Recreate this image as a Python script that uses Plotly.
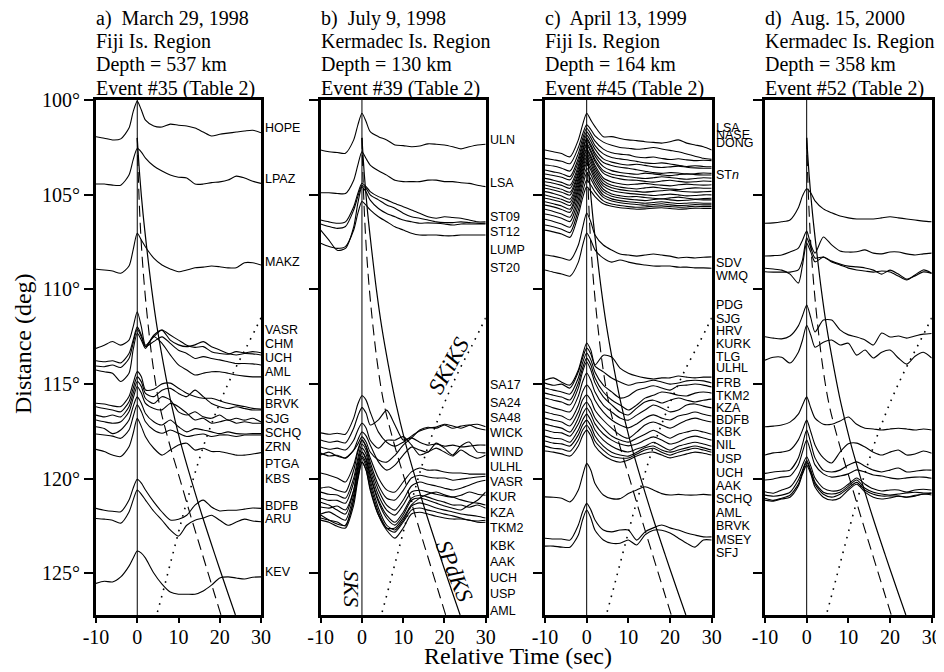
import plotly.graph_objects as go

# ---------------- common sampling (relative time, s) ----------------
T = [-10, -8, -6, -4, -2, -1, 0, 1, 2, 4, 6, 8, 10, 12, 14, 16, 18, 20, 22, 24, 26, 28, 30]
GAIN = 1.902  # degrees of distance per unit amplitude

# ---------------- travel-time curves (distance deg, time s) ----------------
spdks_dist = [102, 104, 106, 108, 110, 112, 114, 116, 118, 120, 122, 124, 126, 127.2]
spdks_time = [0, 0.6, 1.4, 2.4, 3.5, 4.8, 6.4, 8.2, 10.4, 13.0, 15.8, 18.8, 21.9, 23.8]
dash_dist = [102, 104, 106, 108, 110, 112, 114, 116, 118, 120, 122, 124, 126, 127.2]
dash_time = [0, 0.25, 0.6, 1.1, 1.8, 2.7, 3.8, 5.3, 7.6, 10.3, 13.0, 15.8, 18.6, 20.3]
skiks_dist = [111.5, 112, 113, 114, 115, 116, 117, 118, 119, 120, 121, 122, 123, 124, 125, 126, 127.2]
skiks_time = [30, 28.9, 26.6, 24.2, 22.0, 20.0, 18.2, 16.5, 15.0, 13.6, 12.3, 11.0, 9.8, 8.6, 7.4, 6.2, 4.7]

# ---------------- panel a ----------------
a_dist = [101.94, 104.44, 108.94, 113.12, 113.77, 114.05, 114.26, 116.02, 116.20, 116.64,
          116.90, 117.26, 117.64, 118.45, 121.57, 122.10, 125.53]
a_amps = [
    [0, -0.04, -0.09, -0.06, 0.24, 0.69, 0.99, 0.74, 0.46, 0.30, 0.27, 0.35, 0.32, 0.30, 0.24, 0.13, 0.02, 0.07, 0.10, 0.13, 0.16, 0.18, 0.11],
    [0, 0, -0.03, -0.03, 0.25, 0.67, 0.99, 0.89, 0.72, 0.50, 0.36, 0.25, 0.19, 0.17, 0, 0, 0.04, 0.06, 0.11, 0.22, 0.17, 0.08, 0.02],
    [0, -0.02, -0.05, -0.11, 0.09, 0.54, 1.00, 0.81, 0.62, 0.31, 0.12, 0.01, -0.07, -0.02, 0.04, 0.06, 0.09, 0.07, 0.04, 0.04, 0.18, 0.18, 0.12],
    [0, 0.09, 0.19, 0.09, 0.23, 0.60, 1.02, 0.60, 0.09, 0.32, 0.51, 0.37, 0.23, 0.09, 0.03, 0.05, -0.09, -0.14, -0.16, -0.09, -0.12, -0.09, -0.12],
    [0, -0.03, 0, -0.06, 0.20, 0.57, 0.94, 0.71, 0.39, 0.71, 0.85, 0.57, 0.44, 0.39, 0.44, 0.53, 0.39, 0.30, 0.20, 0.16, 0.20, 0.19, 0.16],
    [0, -0.02, 0.03, -0.04, 0.21, 0.63, 1.02, 0.81, 0.54, 0.68, 0.81, 0.63, 0.44, 0.35, 0.21, 0.26, 0.21, 0.17, 0.12, 0.07, 0.07, 0.06, 0.03],
    [0, -0.05, -0.09, -0.32, -0.09, 0.56, 1.02, 0.83, 0.60, 0.93, 0.74, 0.42, 0.14, 0, -0.14, -0.09, -0.05, -0.05, -0.09, -0.14, -0.17, -0.19, -0.19],
    [0, -0.02, -0.07, -0.09, 0.19, 0.56, 0.88, 0.74, 0.37, 0.39, 0.54, 0.56, 0.42, 0.28, 0.19, 0.14, 0.14, 0.07, 0, -0.05, -0.09, -0.14, -0.16],
    [0, -0.05, -0.09, -0.14, 0.14, 0.51, 0.83, 0.69, 0.37, 0.28, 0.46, 0.51, 0.37, 0.28, 0.46, 0.28, 0.09, 0, -0.05, 0, -0.05, -0.09, -0.09],
    [0, -0.05, 0, -0.05, 0.23, 0.60, 0.93, 0.79, 0.46, 0.32, 0.51, 0.42, 0.09, 0, 0.09, -0.05, -0.09, 0, -0.14, -0.09, -0.14, -0.09, -0.19],
    [0, -0.05, -0.09, -0.05, 0.23, 0.60, 0.93, 0.74, 0.46, 0.32, 0.28, 0.46, 0.37, 0.19, 0, 0.05, -0.09, -0.05, 0, -0.09, -0.05, -0.09, -0.09],
    [0, -0.05, -0.19, -0.09, 0.19, 0.56, 0.83, 0.65, 0.37, 0.14, 0.05, 0.19, 0, -0.14, -0.05, -0.09, -0.14, -0.19, -0.14, -0.19, -0.20, -0.19, -0.19],
    [0, -0.03, -0.06, -0.12, 0.11, 0.48, 0.81, 0.62, 0.34, 0.11, 0.02, 0.11, 0.02, -0.07, -0.03, 0, -0.07, -0.03, -0.03, -0.07, -0.03, -0.03, -0.03],
    [0, -0.06, -0.16, -0.20, 0.07, 0.44, 0.86, 0.63, 0.35, 0.03, -0.16, -0.02, 0.12, 0.17, -0.02, 0.03, -0.06, -0.06, -0.11, -0.16, -0.16, -0.13, -0.09],
    [0, -0.05, -0.08, -0.09, 0.23, 0.56, 0.81, 0.70, 0.51, 0.18, -0.10, -0.32, -0.30, -0.19, 0.09, 0.23, 0.04, -0.07, -0.05, -0.05, -0.02, 0.01, 0],
    [0, -0.02, -0.05, -0.13, 0.18, 0.51, 0.79, 0.67, 0.51, 0.20, -0.05, -0.32, -0.49, -0.19, -0.05, 0.01, 0.09, -0.05, -0.19, -0.10, -0.02, -0.07, -0.09],
    [0, 0.06, 0.04, 0.18, 0.48, 0.70, 0.90, 0.84, 0.70, 0.29, -0.02, -0.24, -0.30, -0.30, -0.30, -0.21, -0.05, 0.15, 0.18, 0.15, 0.12, 0.17, 0.18],
]
a_labels = ["HOPE", "LPAZ", "MAKZ", "VASR", "CHM", "UCH", "AML", "CHK", "BRVK", "SJG",
            "SCHQ", "ZRN", "PTGA", "KBS", "BDFB", "ARU", "KEV"]
a_label_deg = [101.48, 104.17, 108.54, 112.15, 112.89, 113.61, 114.35, 115.37, 116.07, 116.87,
               117.61, 118.35, 119.24, 120.02, 121.43, 122.13, 124.95]

# ---------------- panel b ----------------
b_dist = [102.64, 104.90, 106.34, 106.55, 106.87, 107.57, 117.58, 117.96, 118.33, 118.65,
          118.75, 119.70, 120.50, 120.71, 121.03, 121.24, 121.50, 121.87, 122.08, 122.19, 121.92]
b_amps = [
    [0, -0.05, -0.07, -0.09, 0.28, 0.69, 1.02, 0.79, 0.51, 0.37, 0.28, 0.14, 0.12, 0.09, 0.11, 0.17, 0.16, 0.14, 0.09, 0.03, 0.09, 0.14, 0.16],
    [0, 0, -0.02, -0.02, 0.35, 0.77, 1.14, 0.95, 0.77, 0.61, 0.49, 0.35, 0.31, 0.31, 0.31, 0.35, 0.35, 0.31, 0.31, 0.28, 0.26, 0.21, 0.17],
    [0, -0.05, -0.09, -0.05, 0.37, 0.74, 1.02, 0.93, 0.79, 0.65, 0.56, 0.46, 0.37, 0.28, 0.19, 0.09, 0.05, 0.09, 0.07, 0.05, 0, -0.05, -0.05],
    [0, -0.07, -0.12, -0.07, 0.39, 0.76, 1.07, 0.99, 0.81, 0.67, 0.53, 0.44, 0.30, 0.20, 0.16, 0.11, 0.06, 0.04, 0.04, 0.06, 0.04, 0.02, 0.02],
    [0, -0.28, -0.56, -0.51, 0.09, 0.74, 1.20, 1.06, 0.83, 0.60, 0.46, 0.37, 0.28, 0.23, 0.19, 0.20, 0.19, 0.17, 0.14, 0.17, 0.17, 0.17, 0.17],
    [0, -0.09, -0.14, -0.09, 0.37, 0.83, 1.16, 1.06, 0.93, 0.74, 0.60, 0.46, 0.37, 0.28, 0.23, 0.23, 0.23, 0.21, 0.21, 0.23, 0.23, 0.23, 0.23],
    [0, -0.04, -0.01, -0.04, 0.41, 0.80, 1.03, 0.91, 0.58, 0.02, -0.26, -0.37, -0.26, -0.09, 0.05, 0.13, 0.16, 0.24, 0.19, 0.13, 0.21, 0.24, 0.17],
    [0, -0.06, -0.03, -0.08, 0.33, 0.67, 0.90, 0.75, 0.42, 0.56, 0.83, 0.42, 0, 0.06, -0.06, -0.14, -0.11, -0.17, -0.14, -0.19, -0.17, -0.14, -0.14],
    [0, -0.06, -0.03, -0.08, 0.19, 0.47, 0.66, 0.53, 0.19, -0.03, 0.19, 0.19, 0.29, 0.06, -0.22, -0.14, -0.03, -0.14, -0.25, -0.08, -0.22, -0.31, -0.22],
    [0, -0.08, -0.06, -0.14, 0.08, 0.25, 0.45, 0.31, 0.03, -0.19, -0.25, -0.06, 0.22, 0.42, 0.64, 0.72, 0.69, 0.78, 0.69, 0.75, 0.78, 0.69, 0.64],
    [0, 0.08, -0.03, -0.08, 0.14, 0.42, 0.64, 0.53, 0.28, -0.19, -0.42, -0.28, 0, 0.22, 0.14, 0.08, 0.33, 0.19, 0, 0.25, 0.36, 0.08, 0.06],
    [0, -0.06, -0.14, -0.25, 0.22, 0.64, 0.92, 0.75, 0.42, -0.14, -0.47, -0.53, -0.25, 0.03, 0.14, 0.08, 0.08, 0.03, 0, 0, -0.03, -0.03, -0.03],
    [0, 0.03, -0.06, -0.11, 0.50, 1.00, 1.33, 1.14, 0.72, 0.08, -0.28, -0.33, -0.06, 0.28, 0.36, 0.31, 0.28, 0.28, 0.22, 0.25, 0.28, 0.31, 0.33],
    [0, -0.06, -0.08, -0.17, 0.39, 0.94, 1.33, 1.17, 0.72, 0.06, -0.36, -0.50, -0.22, 0.17, 0.28, 0.22, 0.17, 0.11, 0.06, 0.11, 0.19, 0.28, 0.33],
    [0, -0.06, -0.06, -0.14, 0.44, 1.00, 1.39, 1.22, 0.78, 0.08, -0.33, -0.47, -0.19, 0.17, 0.22, 0.17, 0.11, 0.06, 0.03, 0.08, 0.17, 0.11, 0.08],
    [0, -0.08, -0.22, -0.33, 0.33, 1.00, 1.39, 1.22, 0.78, 0.06, -0.36, -0.56, -0.28, 0.11, 0.19, 0.14, 0.06, 0, -0.08, -0.08, -0.14, -0.08, -0.17],
    [0, -0.03, 0.03, -0.08, 0.47, 1.08, 1.53, 1.31, 0.86, 0.14, -0.31, -0.50, -0.22, 0.19, 0.25, 0.19, 0.11, 0.03, -0.03, -0.08, 0.06, 0.19, 0.42],
    [0, 0.06, -0.06, -0.17, 0.53, 1.17, 1.61, 1.42, 0.94, 0.17, -0.31, -0.44, -0.17, 0.22, 0.31, 0.25, 0.17, 0.11, 0.06, 0, -0.03, -0.06, -0.11],
    [0, -0.06, -0.11, -0.22, 0.50, 1.17, 1.67, 1.44, 0.94, 0.17, -0.28, -0.39, -0.11, 0.22, 0.28, 0.22, 0.17, 0.11, 0.06, 0, -0.06, -0.08, -0.06],
    [0, -0.06, -0.17, -0.22, 0.42, 1.11, 1.61, 1.39, 0.89, 0.14, -0.28, -0.50, -0.22, 0.17, 0.22, 0.17, 0.11, 0.06, 0.03, 0.03, 0, -0.06, -0.06],
    [0, -0.14, -0.25, -0.28, 0.42, 1.03, 1.47, 1.25, 0.69, 0, -0.36, -0.36, -0.08, 0.28, 0.47, 0.58, 0.64, 0.56, 0.50, 0.42, 0.36, 0.33, 0.28],
]
b_labels = ["ULN", "LSA", "ST09", "ST12", "LUMP", "ST20", "SA17", "SA24", "SA48", "WICK", "WIND",
            "ULHL", "VASR", "KUR", "KZA", "TKM2", "KBK", "AAK", "UCH", "USP", "AML"]
b_label_deg = [102.11, 104.37, 106.16, 106.96, 107.92, 108.89, 115.06, 115.99, 116.81, 117.61, 118.58,
               119.37, 120.16, 120.99, 121.80, 122.63, 123.56, 124.39, 125.27, 126.11, 126.98]

# ---------------- panel c ----------------
c_dist = [102.64, 103.08, 103.43, 103.70, 103.91, 104.14, 104.32, 104.49, 104.66, 104.84,
          105.02, 105.19, 105.37, 105.55, 105.77, 106.02, 106.30, 106.60, 106.87,
          108.19, 108.98,
          114.79, 114.95, 115.21, 115.48, 115.74, 116.11, 116.48, 116.80, 117.12, 117.43,
          117.75, 118.01, 118.28, 118.54,
          120.96, 123.15, 123.56]
c_amps = [
    [0, -0.05, -0.10, -0.19, 0.28, 0.69, 1.02, 0.83, 0.65, 0.37, 0.37, 0.32, 0.28, 0.26, 0.23, 0.21, 0.19, 0.23, 0.28, 0.19, 0.14, 0.09, 0],
    [0, -0.04, -0.08, -0.15, 0.30, 0.66, 0.93, 0.80, 0.62, 0.45, 0.36, 0.30, 0.28, 0.25, 0.27, 0.30, 0.26, 0.22, 0.18, 0.12, 0.06, 0.0, -0.03],
    [0, -0.03, -0.09, -0.17, 0.32, 0.72, 1.02, 0.86, 0.66, 0.44, 0.34, 0.30, 0.28, 0.22, 0.20, 0.22, 0.18, 0.15, 0.17, 0.14, 0.12, 0.13, 0.12],
    [0, -0.05, -0.10, -0.18, 0.33, 0.75, 1.06, 0.90, 0.68, 0.45, 0.35, 0.31, 0.28, 0.24, 0.20, 0.18, 0.20, 0.17, 0.13, 0.10, 0.12, 0.10, 0.09],
    [0, -0.04, -0.09, -0.16, 0.34, 0.77, 1.08, 0.91, 0.69, 0.42, 0.33, 0.28, 0.25, 0.27, 0.24, 0.20, 0.18, 0.20, 0.22, 0.19, 0.17, 0.16, 0.16],
    [0, -0.05, -0.11, -0.19, 0.35, 0.79, 1.11, 0.93, 0.70, 0.44, 0.36, 0.31, 0.28, 0.24, 0.20, 0.16, 0.14, 0.16, 0.15, 0.12, 0.13, 0.15, 0.14],
    [0, -0.04, -0.10, -0.18, 0.36, 0.82, 1.16, 0.97, 0.72, 0.42, 0.31, 0.26, 0.23, 0.21, 0.24, 0.22, 0.19, 0.17, 0.20, 0.22, 0.20, 0.19, 0.19],
    [0, -0.06, -0.12, -0.20, 0.36, 0.82, 1.16, 0.96, 0.71, 0.40, 0.30, 0.26, 0.23, 0.20, 0.18, 0.20, 0.23, 0.21, 0.18, 0.16, 0.18, 0.20, 0.19],
    [0, -0.05, -0.11, -0.19, 0.38, 0.85, 1.20, 1.00, 0.74, 0.42, 0.31, 0.26, 0.23, 0.22, 0.19, 0.17, 0.20, 0.22, 0.19, 0.17, 0.18, 0.20, 0.19],
    [0, -0.05, -0.12, -0.21, 0.38, 0.85, 1.20, 0.99, 0.73, 0.38, 0.27, 0.22, 0.19, 0.21, 0.23, 0.20, 0.18, 0.16, 0.19, 0.21, 0.19, 0.18, 0.19],
    [0, -0.06, -0.12, -0.20, 0.40, 0.88, 1.25, 1.03, 0.76, 0.40, 0.27, 0.22, 0.19, 0.17, 0.20, 0.22, 0.19, 0.17, 0.15, 0.18, 0.20, 0.19, 0.19],
    [0, -0.05, -0.11, -0.20, 0.40, 0.88, 1.25, 1.04, 0.77, 0.41, 0.29, 0.24, 0.21, 0.19, 0.17, 0.19, 0.21, 0.23, 0.20, 0.18, 0.17, 0.18, 0.19],
    [0, -0.06, -0.12, -0.21, 0.40, 0.88, 1.25, 1.05, 0.78, 0.43, 0.31, 0.26, 0.23, 0.21, 0.19, 0.17, 0.19, 0.21, 0.19, 0.16, 0.17, 0.19, 0.19],
    [0, -0.05, -0.12, -0.20, 0.40, 0.88, 1.25, 1.05, 0.79, 0.44, 0.31, 0.26, 0.23, 0.24, 0.21, 0.19, 0.17, 0.20, 0.22, 0.19, 0.17, 0.18, 0.19],
    [0, -0.06, -0.13, -0.22, 0.41, 0.90, 1.28, 1.08, 0.82, 0.48, 0.36, 0.31, 0.28, 0.26, 0.24, 0.27, 0.29, 0.26, 0.24, 0.25, 0.27, 0.26, 0.26],
    [0, -0.05, -0.12, -0.21, 0.41, 0.90, 1.27, 1.09, 0.85, 0.53, 0.42, 0.37, 0.34, 0.32, 0.30, 0.32, 0.34, 0.31, 0.29, 0.30, 0.31, 0.30, 0.30],
    [0, -0.06, -0.13, -0.22, 0.42, 0.91, 1.28, 1.12, 0.90, 0.61, 0.51, 0.46, 0.43, 0.41, 0.39, 0.41, 0.43, 0.40, 0.38, 0.39, 0.41, 0.40, 0.40],
    [0, -0.05, -0.12, -0.21, 0.42, 0.90, 1.25, 1.11, 0.92, 0.67, 0.58, 0.54, 0.51, 0.49, 0.50, 0.52, 0.53, 0.51, 0.49, 0.50, 0.52, 0.51, 0.51],
    [0, -0.05, -0.11, -0.20, 0.42, 0.88, 1.20, 1.08, 0.93, 0.73, 0.66, 0.62, 0.60, 0.58, 0.59, 0.61, 0.62, 0.60, 0.58, 0.59, 0.61, 0.60, 0.60],
    [0, -0.03, -0.08, -0.14, 0.28, 0.75, 1.17, 0.92, 0.56, 0.28, 0.14, 0.03, 0, -0.03, 0, 0.03, 0, -0.03, -0.08, -0.06, -0.08, -0.06, -0.05],
    [0, -0.06, -0.11, -0.17, 0.22, 0.67, 1.03, 0.83, 0.56, 0.33, 0.22, 0.28, 0.22, 0.17, 0.14, 0.11, 0.11, 0.11, 0.08, 0.08, 0.06, 0.06, 0.05],
    [0, 0.06, -0.06, -0.14, 0.28, 0.69, 1.03, 0.83, 0.42, 0.69, 0.64, 0.33, 0.19, 0.11, 0.06, 0.03, 0.06, 0.06, 0.11, 0.08, 0.06, 0.08, 0.08],
    [0, -0.06, -0.03, -0.14, 0.31, 0.69, 0.97, 0.81, 0.47, 0.31, 0.14, 0.03, -0.06, 0, 0.03, 0.08, 0.03, -0.03, 0, 0.06, 0.08, 0.06, 0],
    [0, -0.06, -0.11, -0.17, 0.28, 0.69, 0.97, 0.78, 0.44, 0.08, -0.11, -0.28, -0.22, -0.06, 0, 0.06, 0, -0.06, 0.06, 0.08, 0.11, 0.08, 0.03],
    [0, -0.06, -0.11, -0.19, 0.28, 0.69, 0.97, 0.78, 0.42, 0.03, -0.19, -0.33, -0.47, -0.33, -0.14, -0.06, 0.03, 0, -0.06, -0.08, 0, 0.03, 0],
    [0, -0.06, -0.11, -0.19, 0.28, 0.72, 1.00, 0.78, 0.42, 0.03, -0.19, -0.39, -0.47, -0.28, -0.11, -0.06, -0.14, -0.06, 0, -0.06, -0.11, -0.06, -0.03],
    [0, -0.08, -0.14, -0.19, 0.25, 0.64, 0.89, 0.69, 0.36, 0, -0.19, -0.36, -0.42, -0.28, -0.14, 0, -0.08, -0.19, -0.14, 0, 0.03, -0.03, -0.08],
    [0, -0.06, -0.11, -0.22, 0.19, 0.56, 0.75, 0.61, 0.33, 0, -0.22, -0.36, -0.44, -0.33, -0.17, -0.08, -0.17, -0.22, -0.11, -0.06, 0, -0.06, -0.11],
    [0, -0.06, -0.11, -0.22, 0.17, 0.50, 0.64, 0.50, 0.22, -0.06, -0.28, -0.47, -0.56, -0.39, -0.19, -0.11, -0.19, -0.28, -0.17, -0.06, 0, -0.06, -0.11],
    [0, -0.06, -0.11, -0.22, 0.17, 0.47, 0.61, 0.44, 0.17, -0.11, -0.33, -0.44, -0.50, -0.39, -0.28, -0.17, -0.28, -0.39, -0.28, -0.22, -0.17, -0.22, -0.28],
    [0, -0.06, -0.08, -0.17, 0.17, 0.44, 0.61, 0.44, 0.17, -0.11, -0.28, -0.39, -0.44, -0.39, -0.28, -0.19, -0.28, -0.39, -0.33, -0.22, -0.17, -0.22, -0.28],
    [0, -0.06, -0.08, -0.17, 0.17, 0.44, 0.61, 0.44, 0.17, -0.11, -0.28, -0.39, -0.44, -0.36, -0.28, -0.17, -0.28, -0.39, -0.28, -0.22, -0.17, -0.22, -0.28],
    [0, -0.06, -0.08, -0.14, 0.17, 0.44, 0.58, 0.42, 0.14, -0.14, -0.31, -0.39, -0.42, -0.31, -0.19, -0.14, -0.25, -0.31, -0.25, -0.19, -0.14, -0.19, -0.25],
    [0, -0.06, -0.08, -0.14, 0.17, 0.44, 0.58, 0.42, 0.14, -0.11, -0.28, -0.33, -0.33, -0.22, -0.11, -0.06, -0.17, -0.25, -0.17, -0.11, -0.06, -0.11, -0.17],
    [0, -0.03, -0.08, -0.14, 0.14, 0.42, 0.58, 0.42, 0.14, -0.11, -0.25, -0.31, -0.25, -0.14, -0.06, -0.03, -0.11, -0.19, -0.14, -0.08, -0.03, -0.06, -0.11],
    [0, -0.01, -0.04, -0.14, 0.19, 0.58, 0.93, 0.74, 0.37, 0.05, -0.05, -0.05, 0.09, 0.19, 0.28, 0.19, 0.09, 0.05, 0.07, 0.05, 0.05, 0.07, 0.05],
    [0, -0.02, -0.02, -0.05, 0.37, 0.73, 0.97, 0.79, 0.51, 0.23, 0.18, 0.23, 0.23, -0.05, 0.18, 0.29, 0.37, 0.29, 0.23, 0.15, 0.09, 0.04, 0.04],
    [0, 0, -0.03, -0.03, 0.31, 0.72, 1.00, 0.78, 0.44, 0.17, 0.08, 0.08, 0.17, 0.03, 0.31, 0.44, 0.44, 0.36, 0.22, 0.08, -0.03, 0.17, 0.17],
]
c_labels = ["LSA", "NASE", "DONG", "ST<i>n</i>", "SDV", "WMQ", "PDG", "SJG", "HRV", "KURK", "TLG", "ULHL",
            "FRB", "TKM2", "KZA", "BDFB", "KBK", "NIL", "USP", "UCH", "AAK", "SCHQ", "AML", "BRVK",
            "MSEY", "SFJ"]
c_label_deg = [101.50, 101.85, 102.26, 103.96, 108.63, 109.28, 110.83, 111.57, 112.20, 112.91, 113.56,
               114.17, 114.93, 115.62, 116.29, 116.90, 117.55, 118.23, 118.98, 119.69, 120.39, 121.09,
               121.80, 122.50, 123.24, 123.95]

# ---------------- panel d ----------------
d_dist = [106.51, 108.24, 108.89, 109.07, 112.50, 113.74, 117.26, 118.75, 119.72, 120.07,
          120.69, 120.87, 121.03, 121.13]
d_amps = [
    [0, 0.01, 0.04, 0.09, 0.43, 0.76, 0.96, 0.84, 0.62, 0.40, 0.29, 0.20, 0.15, 0.12, 0.12, 0.12, 0.15, 0.18, 0.15, 0.12, 0.09, 0.06, 0.04],
    [0, 0.01, 0.03, 0.11, 0.22, 0.44, 0.69, 0.31, 0.08, 0.53, 0.31, 0.14, 0.11, 0.12, 0.17, 0.08, 0.06, 0.11, 0.11, 0.06, 0.03, 0.06, 0.08],
    [0, -0.02, -0.05, -0.16, -0.41, 0.09, 0.70, 0.45, 0.18, 0.31, 0.20, 0.12, 0.06, 0.04, 0.01, -0.05, -0.16, -0.05, -0.16, -0.30, -0.21, -0.10, -0.14],
    [0, -0.01, -0.01, -0.01, 0.05, 0.33, 0.94, 0.66, 0.38, 0.41, 0.27, 0.19, 0.10, 0.05, 0.02, -0.01, 0.02, -0.01, -0.12, -0.23, -0.09, 0.05, -0.04],
    [0, -0.04, -0.06, 0.02, 0.30, 0.58, 0.88, 0.52, 0.13, 0.46, 0.46, 0.19, 0.05, -0.01, -0.09, -0.23, 0.10, -0.01, 0.02, -0.04, 0.02, 0.07, 0.09],
    [0, 0.08, 0.08, -0.08, 0.22, 0.56, 0.97, 0.69, 0.36, 0.50, 0.56, 0.42, 0.47, 0.14, 0.28, 0.06, 0.22, 0.28, 0.06, -0.11, 0.11, 0.22, 0.06],
    [0, 0.02, 0.05, 0.13, 0.35, 0.60, 0.83, 0.52, 0.24, 0.07, 0.07, 0.16, 0.27, 0.07, -0.04, -0.06, -0.09, -0.06, -0.04, -0.06, -0.09, -0.06, -0.09],
    [0, 0.06, 0.08, 0.14, 0.42, 0.69, 0.97, 0.64, 0.28, -0.08, -0.22, 0.08, 0.31, 0.33, 0.22, 0.08, 0, 0.08, 0.14, 0, 0.03, 0.11, 0.05],
    [0, 0.04, 0.06, 0.09, 0.43, 0.81, 1.20, 0.84, 0.43, 0.09, 0.04, 0.09, 0.23, 0.32, 0.20, 0.09, 0.04, 0.09, 0.15, 0.04, 0.06, 0.09, 0.09],
    [0, 0.03, 0.08, 0.11, 0.42, 0.78, 1.11, 0.78, 0.42, 0.17, 0.08, 0.11, 0.17, 0.28, 0.22, 0.14, 0.11, 0.06, 0.03, 0.06, 0.08, 0.08, 0.05],
    [0, -0.04, 0.05, 0.13, 0.46, 0.74, 0.97, 0.71, 0.38, 0.10, 0.02, 0.05, 0.21, 0.38, 0.21, 0.08, 0.02, 0.05, 0.05, -0.01, 0.05, 0.07, 0.05],
    [0, -0.03, 0, 0.08, 0.42, 0.69, 0.97, 0.69, 0.36, 0.08, 0.03, 0.08, 0.25, 0.42, 0.19, 0.08, 0.03, 0, 0.03, 0.06, 0.08, 0.06, 0.06],
    [0, -0.06, 0, 0.08, 0.39, 0.72, 1.00, 0.72, 0.39, 0.11, 0.03, 0.11, 0.28, 0.44, 0.22, 0.11, 0.06, 0.06, 0.06, 0.03, 0.08, 0.11, 0.14],
    [0, -0.03, 0.03, 0.08, 0.39, 0.72, 0.97, 0.72, 0.36, 0.08, 0, 0.06, 0.28, 0.44, 0.22, 0.08, 0.03, 0.06, 0.11, 0.08, 0.11, 0.17, 0.14],
]
d_labels = ["TIXI", "COLA", "FFC", "TLY", "WMQ", "SSE", "MAJO", "LEM", "SSLB", "SAML", "ULN", "TLG", "KIV", "KMI"]
d_label_deg = [106.16, 107.83, 108.94, 109.55, 112.24, 113.73, 117.38, 118.75, 119.64, 120.22,
               120.78, 121.57, 122.19, 122.98]

titles = [
    ["a)  March 29, 1998", "Fiji Is. Region", "Depth = 537 km", "Event #35 (Table 2)"],
    ["b)  July 9, 1998", "Kermadec Is. Region", "Depth = 130 km", "Event #39 (Table 2)"],
    ["c)  April 13, 1999", "Fiji Is. Region", "Depth = 164 km", "Event #45 (Table 2)"],
    ["d)  Aug. 15, 2000", "Kermadec Is. Region", "Depth = 358 km", "Event #52 (Table 2)"],
]
title_line_px = [18.5, 41, 64.5, 88.5]

# ---------------- figure ----------------
W, H = 944, 672
OFF = 8  # page margin of the html body (pixels)
SERIF = "Liberation Serif, Times New Roman, serif"
SANS = "Liberation Sans, Arial, Helvetica, sans-serif"
panel_px = [(96, 261), (320.7, 485.7), (545, 711.7), (765, 931.7)]
Y_TOP_PX, Y_BOT_PX = 100, 615
Y_MIN, Y_MAX = 100, 127.2


def px_x(p):
    return (p - OFF) / W


def px_y(p):
    return 1 - (p - OFF) / H


fig = go.Figure()
panels = [(a_dist, a_amps, a_labels, a_label_deg),
          (b_dist, b_amps, b_labels, b_label_deg),
          (c_dist, c_amps, c_labels, c_label_deg),
          (d_dist, d_amps, d_labels, d_label_deg)]

line_style = dict(color="black", width=1.1, shape="spline", smoothing=0.7)
annotations = []
layout_axes = {}
for i, (dist, amps, labels, label_deg) in enumerate(panels):
    n = i + 1
    xa = "x" if n == 1 else f"x{n}"
    ya = "y" if n == 1 else f"y{n}"
    fig.add_trace(go.Scatter(x=[0, 0], y=[Y_MIN, Y_MAX], mode="lines",
                             line=dict(color="black", width=1), xaxis=xa, yaxis=ya, hoverinfo="skip"))
    fig.add_trace(go.Scatter(x=spdks_time, y=spdks_dist, mode="lines",
                             line=dict(color="black", width=1.2, shape="spline"), xaxis=xa, yaxis=ya))
    fig.add_trace(go.Scatter(x=dash_time, y=dash_dist, mode="lines",
                             line=dict(color="black", width=1.1, shape="spline", dash="11px,6px"),
                             xaxis=xa, yaxis=ya))
    fig.add_trace(go.Scatter(x=skiks_time, y=skiks_dist, mode="lines",
                             line=dict(color="black", width=1.6, shape="spline", dash="1.6px,6px"),
                             xaxis=xa, yaxis=ya))
    for d, amp in zip(dist, amps):
        fig.add_trace(go.Scatter(x=T, y=[d - GAIN * a for a in amp], mode="lines",
                                 line=line_style, xaxis=xa, yaxis=ya))
    x0, x1 = panel_px[i]
    layout_axes["xaxis" if n == 1 else f"xaxis{n}"] = dict(
        domain=[px_x(x0), px_x(x1)], range=[-10, 30], anchor=ya, showgrid=False, zeroline=False,
        automargin=False, tickvals=[-10, 0, 10, 20, 30], ticktext=["-10", "0", "10", "20", "30"],
        ticks="outside", ticklen=5, tickwidth=1.5, tickcolor="black", ticklabelstandoff=-3,
        showline=True, linewidth=3, linecolor="black", mirror=True,
        tickfont=dict(family=SERIF, size=20, color="black"))
    layout_axes["yaxis" if n == 1 else f"yaxis{n}"] = dict(
        domain=[px_y(Y_BOT_PX), px_y(Y_TOP_PX)], range=[Y_MAX, Y_MIN], anchor=xa, showgrid=False,
        zeroline=False, automargin=False, tickvals=[100, 105, 110, 115, 120, 125],
        ticktext=["100°", "105°", "110°", "115°", "120°", "125°"],
        showticklabels=(n == 1), ticks="outside", ticklen=9, tickwidth=1.5, tickcolor="black",
        showline=True, linewidth=3, linecolor="black", mirror=True,
        tickfont=dict(family=SERIF, size=20, color="black"))
    for lab, yd in zip(labels, label_deg):
        annotations.append(dict(text=lab, x=px_x(x1 + 3), xref="paper", y=yd, yref=ya,
                                xanchor="left", yanchor="middle", showarrow=False,
                                font=dict(family=SANS, size=12.5, color="black"), borderpad=0))
    for k, line in enumerate(titles[i]):
        annotations.append(dict(text=line, x=px_x(x0 - 1), xref="paper", y=px_y(title_line_px[k]),
                                yref="paper", xanchor="left", yanchor="middle", showarrow=False,
                                font=dict(family=SERIF, size=20, color="black"), borderpad=0))

annotations.append(dict(text="<i>SKS</i>", x=-2.6, y=125.8, xref="x2", yref="y2", textangle=90,
                        showarrow=False, font=dict(family=SERIF, size=22, color="black")))
annotations.append(dict(text="<i>SPdKS</i>", x=22.4, y=124.9, xref="x2", yref="y2", textangle=68,
                        showarrow=False, font=dict(family=SERIF, size=23, color="black")))
annotations.append(dict(text="<i>SKiKS</i>", x=21.0, y=114.0, xref="x2", yref="y2", textangle=-61,
                        showarrow=False, font=dict(family=SERIF, size=23, color="black")))
annotations.append(dict(text="Distance (deg)", x=px_x(23), y=px_y(344), xref="paper", yref="paper",
                        textangle=-90, showarrow=False, xanchor="center", yanchor="middle",
                        font=dict(family=SERIF, size=24, color="black")))
annotations.append(dict(text="Relative Time (sec)", x=px_x(518), y=px_y(656), xref="paper", yref="paper",
                        showarrow=False, xanchor="center", yanchor="middle",
                        font=dict(family=SERIF, size=24, color="black")))

fig.update_layout(width=W, height=H, margin=dict(l=0, r=0, t=0, b=0, pad=0, autoexpand=False),
                  paper_bgcolor="white", plot_bgcolor="white", showlegend=False,
                  annotations=annotations, **layout_axes)
fig.write_html("out.html")
